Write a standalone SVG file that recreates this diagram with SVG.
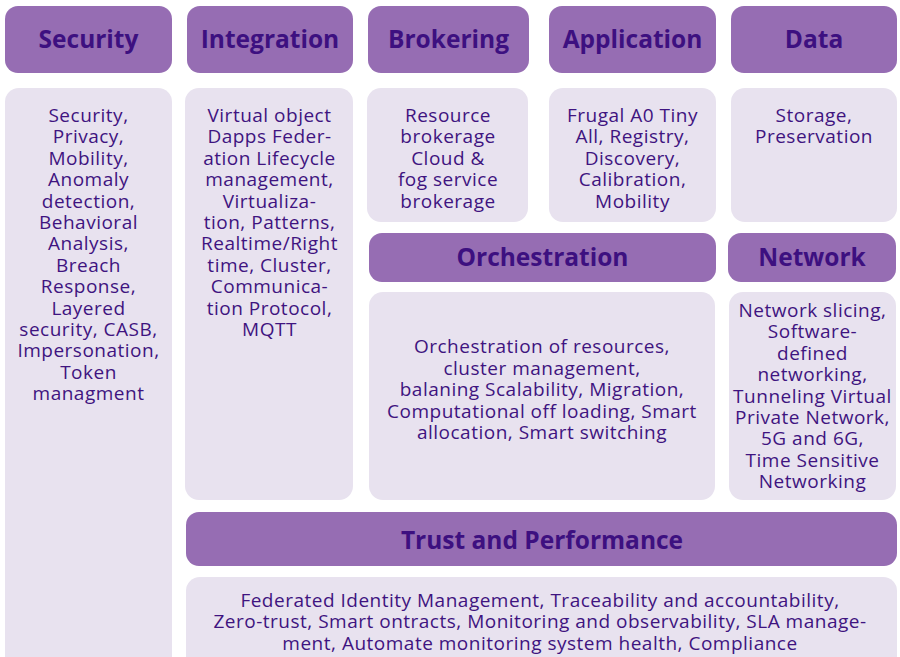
<svg xmlns="http://www.w3.org/2000/svg" width="900" height="657" viewBox="0 0 900 657">
<style>
.h{fill:#966db3}
.c{fill:#e8e2ef}
.ht{font-family:"Open Sans","Liberation Sans",sans-serif;font-weight:700;font-size:24.5px;fill:#3d1080;text-anchor:middle}
.bt{font-family:"Open Sans","Liberation Sans",sans-serif;font-size:19px;letter-spacing:0.5px;fill:#3f1480;text-anchor:middle}
</style>
<rect width="900" height="657" fill="#ffffff"/>
<g id="security">
<rect class="h" x="5" y="6" width="167" height="67" rx="13"/>
<text class="ht" x="88.5" y="48">Security</text>
<rect class="c" x="5" y="88" width="167" height="590" rx="14"/>
<text class="bt" x="88.5" y="122">Security,</text>
<text class="bt" x="88.5" y="143.4">Privacy,</text>
<text class="bt" x="88.5" y="164.8">Mobility,</text>
<text class="bt" x="88.5" y="186.2">Anomaly</text>
<text class="bt" x="88.5" y="207.6">detection,</text>
<text class="bt" x="88.5" y="229">Behavioral</text>
<text class="bt" x="88.5" y="250.4">Analysis,</text>
<text class="bt" x="88.5" y="271.8">Breach</text>
<text class="bt" x="88.5" y="293.2">Response,</text>
<text class="bt" x="88.5" y="314.6">Layered</text>
<text class="bt" x="88.5" y="336">security, CASB,</text>
<text class="bt" x="88.5" y="357.4">Impersonation,</text>
<text class="bt" x="88.5" y="378.8">Token</text>
<text class="bt" x="88.5" y="400.2">managment</text>
</g>
<g id="integration">
<rect class="h" x="187" y="6" width="166" height="67" rx="13"/>
<text class="ht" x="270" y="48">Integration</text>
<rect class="c" x="185" y="88" width="168" height="412" rx="14"/>
<text class="bt" x="269.5" y="122">Virtual object</text>
<text class="bt" x="269.5" y="143.4">Dapps Feder-</text>
<text class="bt" x="269.5" y="164.8">ation Lifecycle</text>
<text class="bt" x="269.5" y="186.2">management,</text>
<text class="bt" x="269.5" y="207.6">Virtualiza-</text>
<text class="bt" x="269.5" y="229">tion, Patterns,</text>
<text class="bt" x="269.5" y="250.4">Realtime/Right</text>
<text class="bt" x="269.5" y="271.8">time, Cluster,</text>
<text class="bt" x="269.5" y="293.2">Communica-</text>
<text class="bt" x="269.5" y="314.6">tion Protocol,</text>
<text class="bt" x="269.5" y="336">MQTT</text>
</g>
<g id="brokering">
<rect class="h" x="368" y="6" width="161" height="67" rx="13"/>
<text class="ht" x="448.5" y="48">Brokering</text>
<rect class="c" x="367" y="88" width="161" height="134" rx="14"/>
<text class="bt" x="448" y="122">Resource</text>
<text class="bt" x="448" y="143.4">brokerage</text>
<text class="bt" x="448" y="164.8">Cloud &amp;</text>
<text class="bt" x="448" y="186.2">fog service</text>
<text class="bt" x="448" y="207.6">brokerage</text>
</g>
<g id="application">
<rect class="h" x="549" y="6" width="167" height="67" rx="13"/>
<text class="ht" x="632.5" y="48">Application</text>
<rect class="c" x="549" y="88" width="167" height="134" rx="14"/>
<text class="bt" x="632.5" y="122">Frugal A0 Tiny</text>
<text class="bt" x="632.5" y="143.4">All, Registry,</text>
<text class="bt" x="632.5" y="164.8">Discovery,</text>
<text class="bt" x="632.5" y="186.2">Calibration,</text>
<text class="bt" x="632.5" y="207.6">Mobility</text>
</g>
<g id="data">
<rect class="h" x="731" y="6" width="166" height="67" rx="13"/>
<text class="ht" x="814" y="48">Data</text>
<rect class="c" x="731" y="88" width="166" height="134" rx="14"/>
<text class="bt" x="814" y="122">Storage,</text>
<text class="bt" x="814" y="143.4">Preservation</text>
</g>
<g id="orchestration">
<rect class="h" x="369" y="233" width="347" height="49" rx="13"/>
<text class="ht" x="542.5" y="266">Orchestration</text>
<rect class="c" x="369" y="292" width="346" height="208" rx="14"/>
<text class="bt" x="542" y="353">Orchestration of resources,</text>
<text class="bt" x="542" y="374.5">cluster management,</text>
<text class="bt" x="542" y="396">balaning Scalability, Migration,</text>
<text class="bt" x="542" y="417.5">Computational off loading, Smart</text>
<text class="bt" x="542" y="439">allocation, Smart switching</text>
</g>
<g id="network">
<rect class="h" x="728" y="233" width="168" height="49" rx="13"/>
<text class="ht" x="812" y="266">Network</text>
<rect class="c" x="729" y="292" width="167" height="208" rx="14"/>
<text class="bt" x="812.5" y="317">Network slicing,</text>
<text class="bt" x="812.5" y="338.4">Software-</text>
<text class="bt" x="812.5" y="359.8">defined</text>
<text class="bt" x="812.5" y="381.2">networking,</text>
<text class="bt" x="812.5" y="402.6">Tunneling Virtual</text>
<text class="bt" x="812.5" y="424">Private Network,</text>
<text class="bt" x="812.5" y="445.4">5G and 6G,</text>
<text class="bt" x="812.5" y="466.8">Time Sensitive</text>
<text class="bt" x="812.5" y="488.2">Networking</text>
</g>
<g id="trust">
<rect class="h" x="186" y="512" width="711" height="54" rx="13"/>
<text class="ht" x="542" y="549">Trust and Performance</text>
<rect class="c" x="186" y="577" width="711" height="100" rx="14"/>
<text class="bt" x="540" y="606.5">Federated Identity Management, Traceability and accountability,</text>
<text class="bt" x="540" y="628">Zero-trust, Smart ontracts, Monitoring and observability, SLA manage-</text>
<text class="bt" x="540" y="649.5">ment, Automate monitoring system health, Compliance</text>
</g>
<g id="connectors"></g>
</svg>
